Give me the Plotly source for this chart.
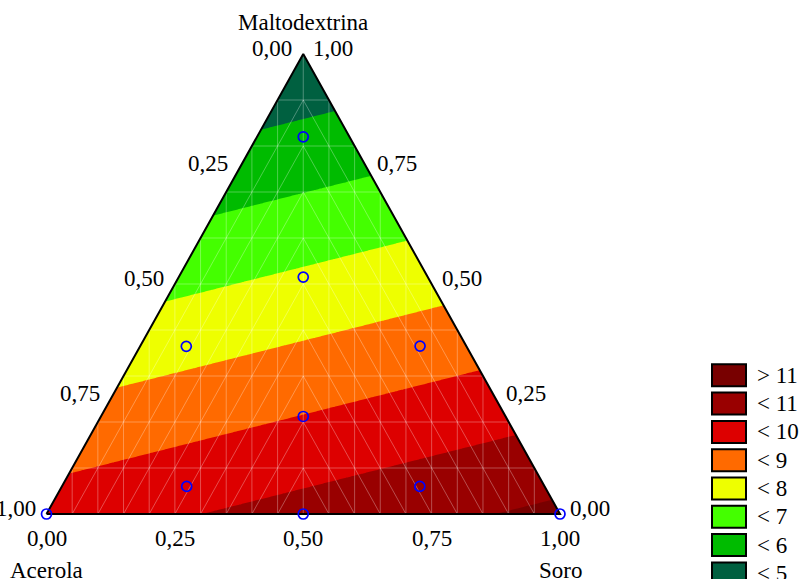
import numpy as np
import plotly.graph_objects as go

# ---------------- data ----------------
component_names = ["Acerola", "Maltodextrina", "Soro"]
# linear (Scheffé) model coefficients for the response
coef_acerola = 9.47
coef_malto = 4.12
coef_soro = 11.22

# design points (mass fractions)
pt_acerola = [0.090, 0.2425, 0.5455, 0.090, 0.394, 0.697, 0.243, 1.0, 0.5, 0.0]
pt_malto = [0.820, 0.5150, 0.3645, 0.365, 0.212, 0.060, 0.060, 0.0, 0.0, 0.0]
pt_soro = [0.090, 0.2425, 0.0900, 0.545, 0.394, 0.243, 0.697, 0.0, 0.5, 1.0]

levels = [5, 6, 7, 8, 9, 10, 11]
band_colors = ["#006040", "#00bb00", "#44ff00", "#eeff00",
               "#ff6a00", "#dd0000", "#990000", "#780000"]  # low -> high
legend_labels = ["> 11", "< 11", "< 10", "< 9", "< 8", "< 7", "< 6", "< 5"]

tick_values = [0.0, 0.25, 0.5, 0.75, 1.0]
tick_labels = ["0,00", "0,25", "0,50", "0,75", "1,00"]

mesh_step_m = 0.1
mesh_step_x = 0.05

# ---------------- layout constants ----------------
W, H = 801, 579
PX_X0, PX_X1 = 46.5, 560.0    # pixel x of bottom-left / bottom-right vertex
PX_Y0, PX_Y1 = 514.0, 54.0    # pixel y of base / apex
FONT = dict(family="Liberation Serif", size=23, color="black")


def to_xy(a, m, s):
    a, m, s = np.asarray(a, float), np.asarray(m, float), np.asarray(s, float)
    return s + m / 2.0, m


sx = PX_X1 - PX_X0
sy = PX_Y0 - PX_Y1
x_range = [(0 - PX_X0) / sx, (W - PX_X0) / sx]
y_range = [(PX_Y0 - H) / sy, (PX_Y0 - 0) / sy]

fig = go.Figure()

# ---------------- response surface (contour) ----------------
gx = np.linspace(0, 1, 241)
gy = np.linspace(0, 1, 241)
GX, GY = np.meshgrid(gx, gy)
GM = GY
GS = GX - GY / 2.0
GA = 1.0 - GS - GM
Z = coef_acerola * GA + coef_malto * GM + coef_soro * GS

n = len(band_colors)
cscale = []
for k, c in enumerate(band_colors):
    lo = max(0.0, (k - 0.5) / (n - 1))
    hi = min(1.0, (k + 0.5) / (n - 1))
    cscale.append([lo, c])
    cscale.append([hi, c])

fig.add_trace(go.Contour(
    x=gx, y=gy, z=Z, autocontour=False,
    contours=dict(start=levels[0], end=levels[-1], size=1,
                  coloring="fill", showlines=False),
    colorscale=cscale, showscale=False, line=dict(width=0),
    hoverinfo="skip"))

# white masks outside the simplex (edges follow the simplex sides exactly)
fig.add_trace(go.Scatter(x=[0, 0.5, 0.5, -0.1, -0.1, 0], y=[0, 1, 1.1, 1.1, 0, 0],
                         fill="toself", fillcolor="white", mode="lines",
                         line=dict(width=0), hoverinfo="skip", showlegend=False))
fig.add_trace(go.Scatter(x=[1, 0.5, 0.5, 1.1, 1.1, 1], y=[0, 1, 1.1, 1.1, 0, 0],
                         fill="toself", fillcolor="white", mode="lines",
                         line=dict(width=0), hoverinfo="skip", showlegend=False))

# faint mesh seams of the triangulated surface
mx, my = [], []
for m in np.arange(mesh_step_m, 1.0 - 1e-9, mesh_step_m):
    mx += [m / 2, 1 - m / 2, None]
    my += [m, m, None]
for xv in np.arange(mesh_step_x, 1.0 - 1e-9, mesh_step_x):
    mx += [xv, xv, None]
    my += [0, 2 * min(xv, 1 - xv), None]
# chevrons: constant-Soro seams on the left half, constant-Acerola on the right
for v in np.arange(mesh_step_x, 0.5 - 1e-9, mesh_step_x):
    mx += [v, 0.5, 1 - v, None]
    my += [0, 1 - 2 * v, 0, None]
fig.add_trace(go.Scatter(x=mx, y=my, mode="lines",
                         line=dict(color="rgba(255,255,255,0.3)", width=1),
                         hoverinfo="skip", showlegend=False))

# triangle outline
tx, ty = to_xy([1, 0, 0, 1], [0, 0, 1, 0], [0, 1, 0, 0])
fig.add_trace(go.Scatter(x=tx, y=ty, mode="lines",
                         line=dict(color="black", width=2),
                         hoverinfo="skip", showlegend=False))

# design points
px_, py_ = to_xy(pt_acerola, pt_malto, pt_soro)
fig.add_trace(go.Scatter(x=px_, y=py_, mode="markers",
                         marker=dict(symbol="circle-open", size=10, color="#0000ff",
                                     line=dict(width=1.7, color="#0000ff")),
                         showlegend=False, cliponaxis=False))

# ---------------- axis labels ----------------
ann = []
for v, lab in zip(tick_values, tick_labels):
    # bottom axis: Soro
    bx, by = to_xy(1 - v, 0, v)
    ann.append(dict(x=float(bx), y=float(by), text=lab, showarrow=False,
                    xanchor="center", yanchor="middle", yshift=-24, font=FONT))
    # left edge: Acerola (0 at apex, 1 at bottom-left)
    lx, ly = to_xy(v, 1 - v, 0)
    ann.append(dict(x=float(lx), y=float(ly), text=lab, showarrow=False,
                    xanchor="right", yanchor="middle", xshift=-9, yshift=6, font=FONT))
    # right edge: Maltodextrina
    rx, ry = to_xy(0, v, 1 - v)
    ann.append(dict(x=float(rx), y=float(ry), text=lab, showarrow=False,
                    xanchor="left", yanchor="middle", xshift=8, yshift=6, font=FONT))

# component titles
vx, vy = to_xy([1, 0, 0], [0, 1, 0], [0, 0, 1])
ann.append(dict(x=float(vx[0]), y=float(vy[0]), text=component_names[0], showarrow=False,
                xanchor="center", yanchor="middle", yshift=-56, font=FONT))
ann.append(dict(x=float(vx[1]), y=float(vy[1]), text=component_names[1], showarrow=False,
                xanchor="center", yanchor="middle", yshift=32, font=FONT))
ann.append(dict(x=float(vx[2]), y=float(vy[2]), text=component_names[2], showarrow=False,
                xanchor="center", yanchor="middle", yshift=-56, font=FONT))

# ---------------- legend ----------------
shapes = []
LEG_X0, LEG_X1 = 712, 746
LEG_TOP, LEG_STEP, LEG_H = 364.3, 28.3, 22
for i, (lab, col) in enumerate(zip(legend_labels, band_colors[::-1])):
    top = LEG_TOP + i * LEG_STEP
    shapes.append(dict(type="rect", xref="paper", yref="paper",
                       x0=LEG_X0 / W, x1=LEG_X1 / W,
                       y0=1 - (top + LEG_H) / H, y1=1 - top / H,
                       fillcolor=col, line=dict(color="black", width=2)))
    ann.append(dict(xref="paper", yref="paper", x=755 / W, y=1 - (top + LEG_H / 2) / H,
                    text=lab, showarrow=False, xanchor="left", yanchor="middle",
                    font=FONT))

fig.update_layout(
    width=W, height=H, autosize=False,
    margin=dict(l=0, r=0, t=0, b=0),
    paper_bgcolor="white", plot_bgcolor="white",
    xaxis=dict(range=x_range, visible=False, fixedrange=True),
    yaxis=dict(range=y_range, visible=False, fixedrange=True),
    showlegend=False, annotations=ann, shapes=shapes,
)

fig.write_html("out.html", config={"displayModeBar": False},
               post_script="document.body.style.margin='0';document.body.style.overflow='hidden';")
